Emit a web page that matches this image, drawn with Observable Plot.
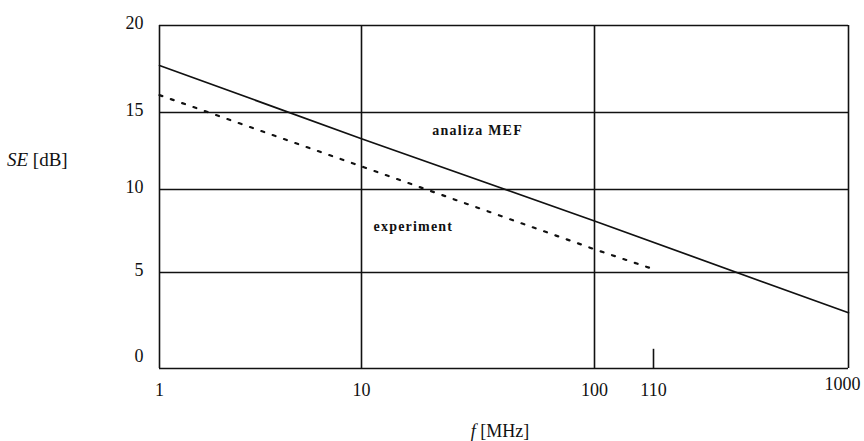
<!DOCTYPE html>
<html>
<head>
<meta charset="utf-8">
<script src="https://cdn.jsdelivr.net/npm/d3@7"></script>
<script src="https://cdn.jsdelivr.net/npm/@observablehq/plot@0.6"></script>
<style>
  html, body { margin: 0; padding: 0; background: #fff; }
  #chart svg { display: block; }
  .series-label text { letter-spacing: 1.2px; }
</style>
</head>
<body>
<div id="chart"></div>
<script>
// Shielding effectiveness SE [dB] versus frequency f [MHz]
const freqTicks = [1, 10, 100, 110];
const lastFreqTick = [1000];
const seTicks = [5, 10, 15, 20];
const zeroTick = [0];

// FEM analysis (analiza MEF)
const mefFreq = [1, 10, 100, 1000];
const mefSE = [17.7, 13.3, 8.1, 2.9];

// measurement (experiment), up to 110 MHz
const expFreq = [1, 10, 100, 110];
const expSE = [16.0, 11.5, 6.4, 5.2];

// grid lines
const gridFreq = [1, 10, 100, 1000];
const gridSE = [0, 5, 10, 15, 20];

const mef = mefFreq.map((f, i) => ({f, se: mefSE[i]}));
const exp = expFreq.map((f, i) => ({f, se: expSE[i]}));

const serif = "'Liberation Serif', 'Times New Roman', serif";

const chart = Plot.plot({
  width: 864,
  height: 441,
  marginLeft: 159,
  marginRight: 16,
  marginTop: 25,
  marginBottom: 73,
  style: {fontFamily: serif, fontSize: "18px", color: "#111", background: "#fff"},
  x: {type: "log", domain: [1, 10, 100, 110, 1000], range: [159, 361, 594, 653, 848]},
  y: {type: "linear", domain: [0, 5, 10, 15, 20], range: [368, 272, 189, 112, 25]},
  marks: [
    Plot.ruleY(gridSE, {y: d => d, x1: 1, x2: 1000, stroke: "#111", strokeWidth: 1.6}),
    Plot.ruleX(gridFreq, {x: d => d, y1: 0, y2: 20, stroke: "#111", strokeWidth: 1.6}),
    Plot.ruleX([110], {x: d => d, y1: 0, y2: 1, stroke: "#111", strokeWidth: 1.6}),
    Plot.line(mef, {x: "f", y: "se", stroke: "#111", strokeWidth: 1.7}),
    Plot.line(exp, {x: "f", y: "se", stroke: "#111", strokeWidth: 2.2, strokeDasharray: "3,9"}),
    Plot.text(["analiza MEF"], {x: 31.5, y: 13.8, text: d => d, fontWeight: "bold", fontSize: 14, fill: "#111", className: "series-label"}),
    Plot.text(["experiment"], {x: 16.7, y: 7.8, text: d => d, fontWeight: "bold", fontSize: 14, fill: "#111", className: "series-label"}),
    Plot.axisX(freqTicks, {tickSize: 0, tickPadding: 15, fontSize: 18, label: null, tickFormat: d => String(d)}),
    Plot.axisX(lastFreqTick, {tickSize: 0, tickPadding: 15, fontSize: 18, label: null, tickFormat: d => String(d), dx: -6, dy: -6}),
    Plot.axisY(seTicks, {tickSize: 0, tickPadding: 16, fontSize: 18, label: null, dy: -2}),
    Plot.axisY(zeroTick, {tickSize: 0, tickPadding: 16, fontSize: 18, label: null, dy: -12})
  ]
});

// axis titles with italic quantity symbols
const svg = d3.select(chart);
const yTitle = svg.append("text")
  .attr("x", 7).attr("y", 166).attr("text-anchor", "start")
  .attr("font-family", serif).attr("font-size", 19).attr("fill", "#111");
yTitle.append("tspan").attr("font-style", "italic").text("SE");
yTitle.append("tspan").text(" [dB]");

const xTitle = svg.append("text")
  .attr("x", 500).attr("y", 437).attr("text-anchor", "middle")
  .attr("font-family", serif).attr("font-size", 18).attr("fill", "#111");
xTitle.append("tspan").attr("font-style", "italic").text("f");
xTitle.append("tspan").text(" [MHz]");

document.getElementById("chart").appendChild(chart);
</script>
</body>
</html>
